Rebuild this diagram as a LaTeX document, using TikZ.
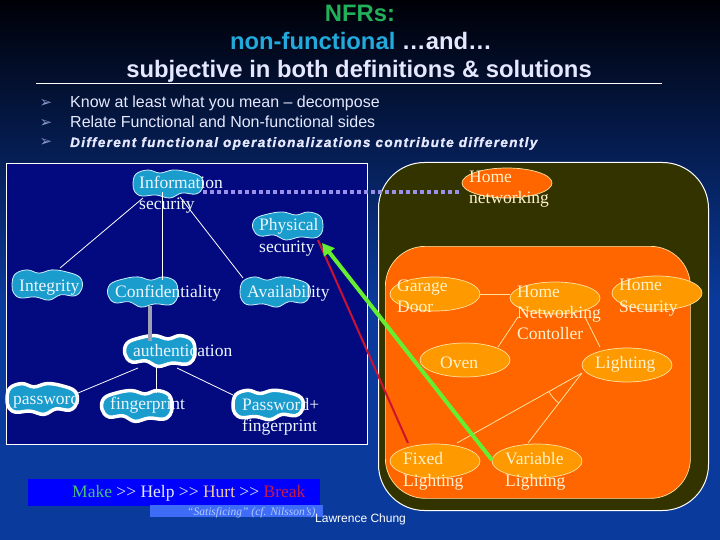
\documentclass[tikz,border=0pt]{standalone}
\usepackage{fontspec}
\setmainfont{Liberation Serif}
\newfontfamily\sansf{Liberation Sans}
\newfontfamily\widef[LetterSpace=10, BoldItalicFeatures={FakeBold=1.5}]{Liberation Sans}
\newfontfamily\dejavu{DejaVu Sans}
\usetikzlibrary{shapes.geometric,calc,arrows.meta}
\definecolor{bgtop}{HTML}{000006}
\definecolor{bgbot}{HTML}{0A3A9C}
\definecolor{lbox}{HTML}{03097F}
\definecolor{olive}{HTML}{333300}
\definecolor{orng}{HTML}{FF6600}
\definecolor{ovalfill}{HTML}{FF9900}
\definecolor{ovalline}{HTML}{FFE2A0}
\definecolor{righttext}{HTML}{FFF2CC}
\definecolor{lefttext}{HTML}{ECF6FF}
\definecolor{blobfill}{HTML}{1A9CCC}
\definecolor{blobline}{HTML}{D0F0FF}
\definecolor{ttlgreen}{HTML}{22B05A}
\definecolor{ttlcyan}{HTML}{22AADD}
\definecolor{ttllight}{HTML}{E6E8FF}
\definecolor{bullet}{HTML}{8898C8}
\definecolor{dotline}{HTML}{9A90E8}
\definecolor{garrow}{HTML}{66EE33}
\definecolor{rline}{HTML}{CC1133}
\definecolor{graylink}{HTML}{A0A0B4}
\definecolor{mkgreen}{HTML}{44C080}
\definecolor{mklight}{HTML}{E0E8FF}
\definecolor{hurt}{HTML}{F0C8A8}
\definecolor{brk}{HTML}{C41A50}
\definecolor{satbox}{HTML}{3F6CF6}
\definecolor{sattext}{HTML}{B0CCFF}
\tikzset{
  pics/blobshape/.style={code={
    \path[pic actions] plot[smooth cycle, tension=0.65] coordinates
      {(-35,0) (-32,-10) (-20,-14) (-8,-11) (5,-14) (20,-12) (33,-7) (35,3) (28,10) (14,9) (2,14) (-12,11) (-26,12) (-33,8)};
  }},
  blob/.style={fill=blobfill, draw=blobline, line width=0.8},
  authblob/.style={fill=blobfill, draw=white, line width=3.5},
  oval/.style={ellipse, minimum width=90, minimum height=34, inner sep=0, fill=ovalfill, draw=ovalline, line width=0.7},
  ltxt/.style={anchor=base west, inner sep=0, text=lefttext, font=\fontsize{17.5}{21}\selectfont},
  rtxt/.style={anchor=base west, inner sep=0, text=righttext, font=\fontsize{17.5}{21}\selectfont},
  ttl/.style={anchor=base, inner sep=0, font=\sansf\bfseries\fontsize{23.8}{28}\selectfont},
  btxt/.style={anchor=base west, inner sep=0, text=ttllight, font=\sansf\fontsize{16}{19}\selectfont},
  bmark/.style={anchor=base, inner sep=0, text=bullet, font=\dejavu\fontsize{15}{17}\selectfont},
  tree/.style={draw=white, line width=0.8},
  rtree/.style={draw=ovalline, line width=0.8},
}
\begin{document}
\begin{tikzpicture}[x=1pt,y=-1pt]
\useasboundingbox (0,0) rectangle (720,540);
\fill[bgbot] (0,0) rectangle (720,540);
\shade[top color=bgtop, bottom color=bgbot] (0,0) rectangle (720,300);

% title
\node[ttl, text=ttlgreen] (t1) at (360,22) {NFRs:};
\node[ttl] (t2) at (361,50) {\textcolor{ttlcyan}{non-functional} \textcolor{ttllight}{…and…}};
\node[ttl, text=ttllight] (t3) at (359,78) {subjective in both definitions \& solutions};
\draw[white, line width=0.8] (36,83) -- (662,83);

% bullets
\node[bmark] (b1) at (46,108) {➢};
\node[bmark] (b2) at (46,128) {➢};
\node[bmark] (b3) at (46,147) {➢};
\node[btxt] (bt1) at (70,108) {Know at least what you mean – decompose};
\node[btxt] (bt2) at (70,128) {Relate Functional and Non-functional sides};
\node[anchor=base west, inner sep=0, text=ttllight, font=\widef\bfseries\itshape\fontsize{13.5}{16}\selectfont] (bt3) at (70,147) {Different functional operationalizations contribute differently};

% left box
\node[draw=white, line width=1, fill=lbox, minimum width=361, minimum height=281, anchor=north west, inner sep=0] (leftbox) at (6,163) {};

% right boxes
\node[draw=white, line width=1, fill=olive, rounded corners=46, minimum width=330, minimum height=348, anchor=north west, inner sep=0] (outer) at (378,162) {};
\node[draw=ovalline, line width=0.7, fill=orng, rounded corners=40, minimum width=305, minimum height=252, anchor=north west, inner sep=0] (inner) at (385,246) {};

% left blobs
\coordinate (info) at (168,184);
\coordinate (phys) at (288,226);
\coordinate (integ) at (47,285);
\coordinate (conf) at (143,292);
\coordinate (avail) at (275,292);
\coordinate (auth) at (160,351);
\coordinate (pw) at (42,399);
\coordinate (fp) at (137,406);
\coordinate (pwfp) at (268,405);
\pic[blob] at (info) {blobshape};
\pic[blob, xscale=-1] at (phys) {blobshape};
\pic[blob, yscale=1.08] at (integ) {blobshape};
\pic[blob, xscale=-1, yscale=1.08] at (conf) {blobshape};
\pic[blob, yscale=1.08] at (avail) {blobshape};
\pic[authblob, xscale=-1, yscale=1.1] at (auth) {blobshape};
\pic[authblob, yscale=1.1] at (pw) {blobshape};
\pic[authblob, xscale=-1, yscale=1.1] at (fp) {blobshape};
\pic[authblob, yscale=1.05] at (pwfp) {blobshape};

% left links
\draw[tree] ($(info)+(-25,14)$) -- ($(integ)+(13,-17)$);
\draw[tree] ($(info)+(-6,8)$) -- ($(conf)+(19,-12)$);
\draw[tree] ($(info)+(12,13)$) -- ($(avail)+(-32,-14)$);
\draw[graylink, line width=4] ($(conf)+(7,14)$) -- ($(auth)+(-10,-10)$);
\draw[tree] ($(auth)+(-22,17)$) -- ($(pw)+(36,-6)$);
\draw[tree] ($(auth)+(-4,15)$) -- ($(fp)+(19,-13)$);
\draw[tree] ($(auth)+(17,17)$) -- ($(pwfp)+(-35,-10)$);

% left texts
\node[ltxt] (infoA) at (139,189) {Information};
\node[ltxt] (infoB) at (139,210) {security};
\node[ltxt] (physA) at (259,230) {Physical};
\node[ltxt] (physB) at (259,252) {security};
\node[ltxt] (integT) at (19,291) {Integrity};
\node[ltxt] (confT) at (115,297) {Confidentiality};
\node[ltxt] (availT) at (247,297) {Availability};
\node[ltxt] (authT) at (133,356) {authentication};
\node[ltxt] (pwT) at (13,404) {password};
\node[ltxt] (fpT) at (110,409) {fingerprint};
\node[ltxt] (pwfpA) at (242,410) {Password+};
\node[ltxt] (pwfpB) at (242,431) {fingerprint};

% right ovals
\node[oval, fill=orng, minimum height=30] (homenet) at (507,183) {};
\node[oval] (garage) at (435,294) {};
\node[oval, minimum height=32] (hnc) at (555,298) {};
\node[oval] (homesec) at (657,293) {};
\node[oval] (oven) at (465,360) {};
\node[oval] (light) at (627,365) {};
\node[oval] (fixed) at (435,461) {};
\node[oval] (var) at (537,461) {};

% right links
\draw[white, line width=3] ($(homenet.south)+(-3,0)$) -- ($(homenet.south)+(-3,0)$ |- inner.north);
\draw[rtree] (garage.east) -- (garage.east -| hnc.west);
\draw[rtree] ($(hnc.east)+(0,2)$) -- ($(hnc.east)+(0,2)$ -| homesec.west);
\draw[rtree] ($(hnc)+(-37,19)$) -- ($(oven)+(33,-13)$);
\draw[rtree] ($(hnc)+(30,19)$) -- ($(light)+(-27,-18)$);
\coordinate (andpt) at ($(light)+(-45,8)$);
\draw[rtree] (andpt) -- ($(fixed)+(22,-18)$);
\draw[rtree] (andpt) -- ($(var)+(-9,-18)$);
\draw[rtree] (andpt) ++(150.75:38) arc[start angle=150.75, end angle=127.65, radius=38];

% right texts
\node[rtxt] (hnA) at (469,183) {Home};
\node[rtxt] (hnB) at (469,204) {networking};
\node[rtxt] (gdA) at (397,291) {Garage};
\node[rtxt] (gdB) at (397,312) {Door};
\node[rtxt] (hncA) at (517,297) {Home};
\node[rtxt] (hncB) at (517,318) {Networking};
\node[rtxt] (hncC) at (517,339) {Contoller};
\node[rtxt] (hsA) at (619,290) {Home};
\node[rtxt] (hsB) at (619,312) {Security};
\node[rtxt] (ovenT) at (440,368) {Oven};
\node[rtxt] (lightT) at (595,368) {Lighting};
\node[rtxt] (flA) at (403,464) {Fixed};
\node[rtxt] (flB) at (403,486) {Lighting};
\node[rtxt] (vlA) at (505,464) {Variable};
\node[rtxt] (vlB) at (505,486) {Lighting};

% cross links
\draw[dotline, line width=4, dash pattern=on 4pt off 3pt] ($(info)+(35,8)$) -- ($(homenet)+(-48,9)$);
\draw[rline, line width=2] ($(fixed)+(-27,-18)$) -- ($(phys)+(30,14)$);
\draw[garrow, line width=4, -{Triangle[width=13pt,length=12pt]}] ($(var)+(-45,-1)$) -- ($(phys)+(34,17)$);

% legend
\node[fill=blue, minimum width=292, minimum height=27, anchor=north west, inner sep=0] (mkbox) at (28,479) {};
\node[fill=satbox, minimum width=173, minimum height=12, anchor=north west, inner sep=0] (satb) at (150,505) {};
\node[anchor=base west, inner sep=0, font=\fontsize{17.5}{21}\selectfont] (mk) at (72,497) {\textcolor{mkgreen}{Make} \textcolor{mklight}{>{}> Help >{}>} \textcolor{hurt}{Hurt} \textcolor{mklight}{>{}>} \textcolor{brk}{Break}};
\node[anchor=base west, inner sep=0, text=sattext, font=\itshape\fontsize{11.5}{13}\selectfont] (sat) at (187,515) {“Satisficing” (cf. Nilsson's)};
\node[anchor=base west, inner sep=0, text=white, font=\sansf\fontsize{12}{14}\selectfont] (lc) at (315,522) {Lawrence Chung};
\end{tikzpicture}
\end{document}
